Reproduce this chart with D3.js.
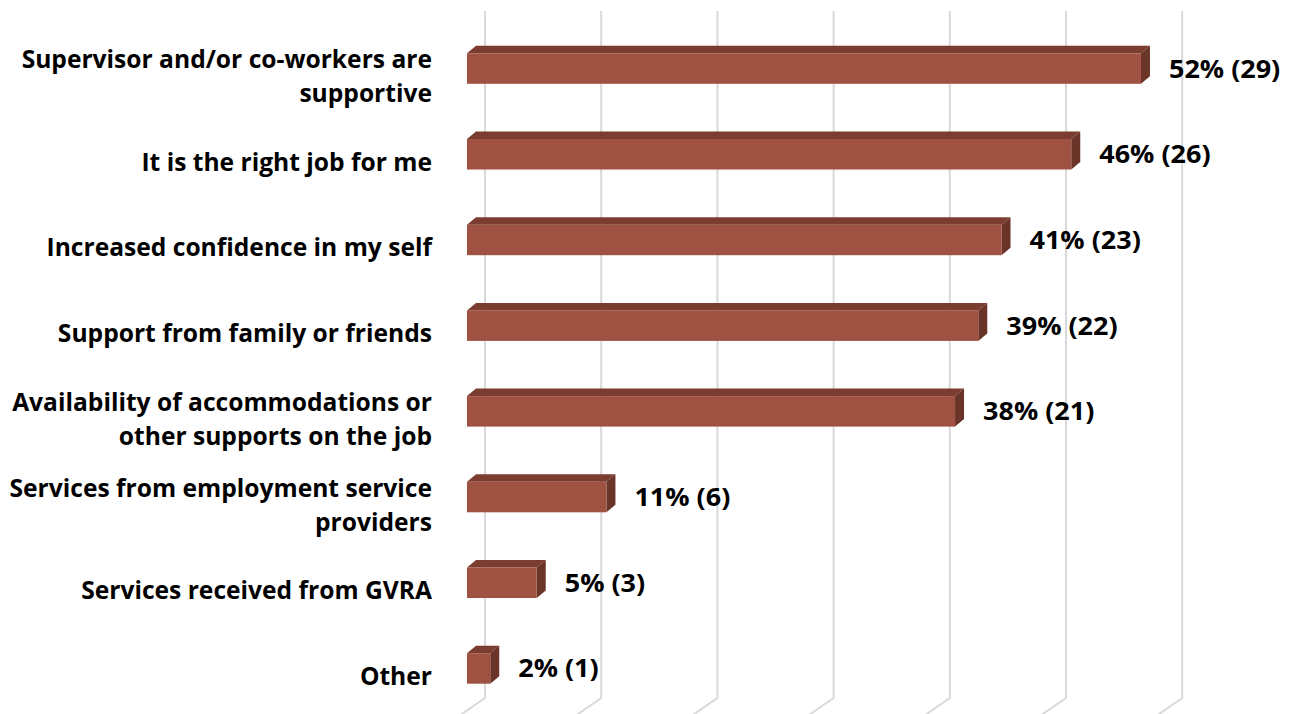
<!DOCTYPE html>
<html>
<head>
<meta charset="utf-8">
<script src="https://cdn.jsdelivr.net/npm/d3@7"></script>
<style>
  html, body { margin: 0; padding: 0; background: #ffffff; }
  svg { display: block; }
  text { font-family: "Open Sans", "Liberation Sans", sans-serif; font-weight: 700; fill: #000; }
</style>
</head>
<body>
<svg id="chart" width="1296" height="714"></svg>
<script>
// Reasons respondents gave for keeping their job
const categories = [
  "Supervisor and/or co-workers are\nsupportive",
  "It is the right job for me",
  "Increased confidence in my self",
  "Support from family or friends",
  "Availability of accommodations or\nother supports on the job",
  "Services from employment service\nproviders",
  "Services received from GVRA",
  "Other"
];
const counts   = [29, 26, 23, 22, 21, 6, 3, 1];
const percents = [52, 46, 41, 39, 38, 11, 5, 2];
const gridTicks = [0, 5, 10, 15, 20, 25, 30];

const svg = d3.select("#chart");

// Back-wall value scale and category band scale (front faces of the bars)
const x = d3.scaleLinear().domain([0, 30]).range([485, 1182.2]);
const y = d3.scaleBand().domain(categories).range([-1.9, 738.9])
  .paddingInner(0.644).paddingOuter(0.644);

// Oblique depth of the 3-D boxes
const depthX = 9, depthY = 7.5;   // bar thickness
const frontShift = 18;            // bars sit in front of the back wall
const floorDX = -30, floorDY = 20.7;
const wallTop = 11, wallBottom = 698;

const colFront = "#A05242", colTop = "#7A3D2F", colSide = "#6A3429";
const gridCol = "#D9D9D9";

// Gridlines: vertical on the back wall, then slanting forward across the floor
svg.append("g").selectAll("path").data(gridTicks).join("path")
  .attr("d", d => {
    const gx = x(d);
    return `M${gx},${wallTop}L${gx},${wallBottom}L${gx + floorDX},${wallBottom + floorDY}`;
  })
  .attr("fill", "none").attr("stroke", gridCol).attr("stroke-width", 2);

// Bars
const bars = svg.append("g").selectAll("g").data(categories).join("g");
const fx0 = () => x(0) - frontShift;
const fx1 = (i) => x(counts[i]) - frontShift;

bars.append("path") // top face
  .attr("d", (c, i) => {
    const yt = y(c), a = fx0(), b = fx1(i);
    return `M${a},${yt}L${a + depthX},${yt - depthY}L${b + depthX},${yt - depthY}L${b},${yt}Z`;
  })
  .attr("fill", colTop);

bars.append("path") // right side face
  .attr("d", (c, i) => {
    const yt = y(c), yb = yt + y.bandwidth(), b = fx1(i);
    return `M${b},${yt}L${b + depthX},${yt - depthY}L${b + depthX},${yb - depthY}L${b},${yb}Z`;
  })
  .attr("fill", colSide);

bars.append("rect") // front face
  .attr("x", fx0())
  .attr("y", c => y(c))
  .attr("width", (c, i) => fx1(i) - fx0())
  .attr("height", y.bandwidth())
  .attr("fill", colFront);

// Value labels
svg.append("g").selectAll("text").data(categories).join("text")
  .attr("transform", (c, i) => `translate(${fx1(i) + 28},${y(c) + y.bandwidth() / 2 + 9}) scale(1.08,1)`)
  .attr("font-size", 25)
  .text((c, i) => `${percents[i]}% (${counts[i]})`);

// Category labels, right aligned, possibly on two lines
const lineGap = 34;
const cat = svg.append("g").selectAll("text").data(categories).join("text")
  .attr("transform", c => {
    const lines = c.split("\n");
    const cy = y(c) + y.bandwidth() / 2 + 7.5;
    const firstBase = cy - (lines.length - 1) * lineGap / 2 + 9;
    return `translate(432,${firstBase})`;
  })
  .attr("font-size", 24.6)
  .attr("text-anchor", "end");
cat.selectAll("tspan").data(c => c.split("\n")).join("tspan")
  .attr("x", 0).attr("y", (d, k) => k * lineGap).text(d => d);
</script>
</body>
</html>
